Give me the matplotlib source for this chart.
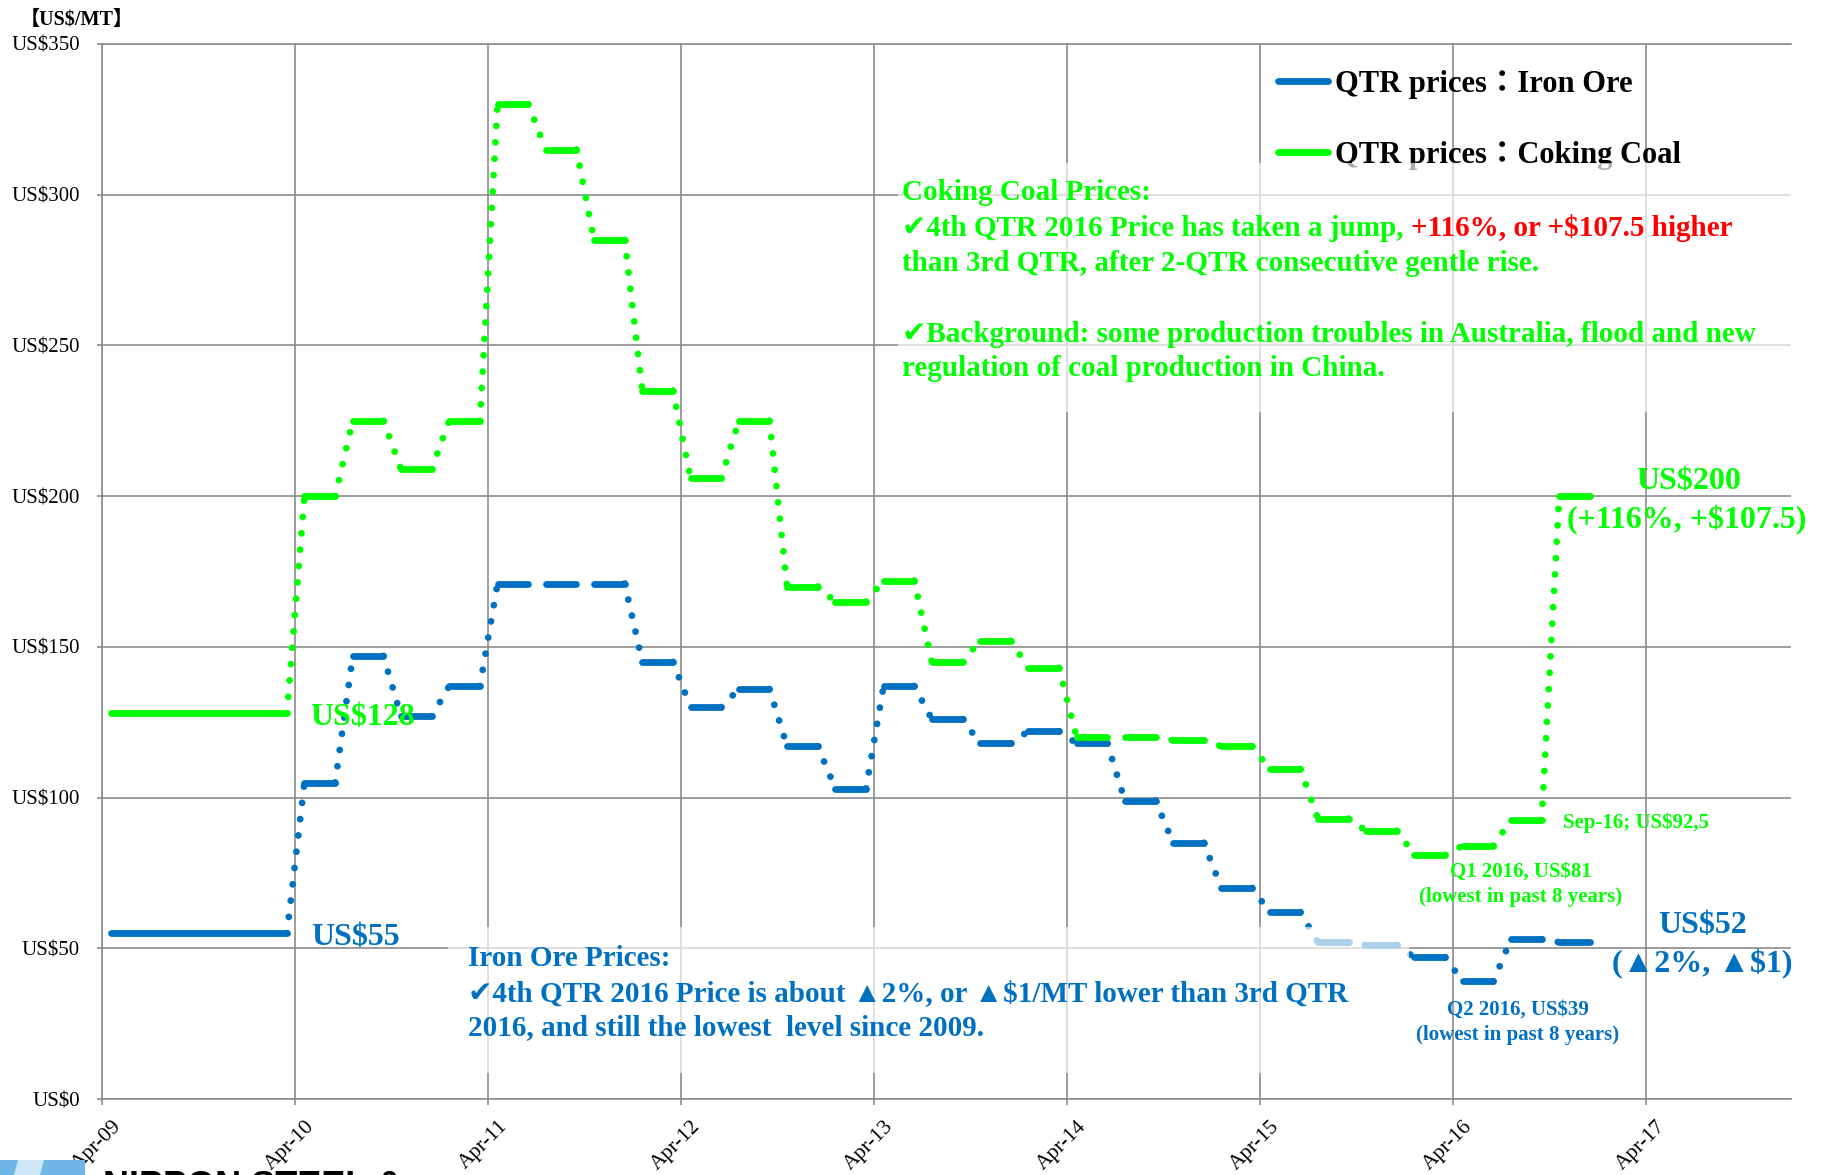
import matplotlib
matplotlib.use("Agg")
import matplotlib.pyplot as plt
from matplotlib.lines import Line2D
from matplotlib.patches import Rectangle, Polygon
from matplotlib.transforms import ScaledTranslation

plt.rcParams['font.family'] = ['Liberation Serif', 'Noto Sans CJK JP', 'DejaVu Sans']
NOTE_FAMILY = ['Liberation Serif', 'DejaVu Sans', 'Noto Sans CJK JP']

W, H = 1825, 1175
DPI = 100

# ---- data -------------------------------------------------------------
# start month of each contract price period (first one is the 2009 annual benchmark)
periods = ["2009-04", "2010-04", "2010-07", "2010-10", "2011-01",
           "2011-04", "2011-07", "2011-10", "2012-01",
           "2012-04", "2012-07", "2012-10", "2013-01",
           "2013-04", "2013-07", "2013-10", "2014-01",
           "2014-04", "2014-07", "2014-10", "2015-01",
           "2015-04", "2015-07", "2015-10", "2016-01",
           "2016-04", "2016-07", "2016-10"]
iron_ore = [55, 105, 147, 127, 137,
            171, 171, 171, 145,
            130, 136, 117, 103,
            137, 126, 118, 122,
            118, 99, 85, 70,
            62, 52, 51, 47,
            39, 53, 52]
coking_coal = [128, 200, 225, 209, 225,
               330, 315, 285, 235,
               206, 225, 170, 165,
               172, 145, 152, 143,
               120, 120, 119, 117,
               109.5, 93, 89, 81,
               84, 92.5, 200]
tick_labels = ["Apr-09", "Apr-10", "Apr-11", "Apr-12", "Apr-13",
               "Apr-14", "Apr-15", "Apr-16", "Apr-17"]
y_ticks = [0, 50, 100, 150, 200, 250, 300, 350]

BLUE = "#0070C0"
GREEN = "#00FF00"
RED = "#FF0000"
GRID = "#8C8C8C"


def to_year(s):
    y, m = s.split("-")
    return int(y) + (int(m) - 1) / 12.0


starts = [to_year(p) for p in periods]
ends = starts[1:] + [starts[-1] + 0.25]
tick_pos = [to_year("20%s-04" % lab[-2:]) for lab in tick_labels]


def fig_xy(x, y):
    """pixel position (from top-left) -> figure fraction"""
    return x / W, 1 - y / H


# ---- figure / axes ----------------------------------------------------
fig = plt.figure(figsize=(W / DPI, H / DPI), dpi=DPI)
L, R, T, B = 102, 1791, 44, 1099
ax = fig.add_axes([L / W, 1 - B / H, (R - L) / W, (B - T) / H])
ax.set_xlim(2009.25, 2018.0)
ax.set_ylim(0, 350)

ax.set_xticks(tick_pos)
ax.set_xticklabels(tick_labels, rotation=45, ha="right", va="top",
                   rotation_mode="anchor", fontsize=15.5)
ax.set_yticks(y_ticks)
ax.set_yticklabels(["US$%d" % v for v in y_ticks], fontsize=15)
ax.tick_params(axis="x", direction="out", length=4.3, width=1.2, color=GRID, pad=8.5)
ax.tick_params(axis="y", direction="out", length=3.6, width=1.2, color=GRID, pad=12.5)
for lab in ax.get_xticklabels():
    lab.set_transform(lab.get_transform() + ScaledTranslation(10 / DPI, 0, fig.dpi_scale_trans))

ax.grid(True, color=GRID, lw=1.2)
ax.set_axisbelow(True)
for side in ("left", "bottom", "top"):
    ax.spines[side].set_color(GRID)
    ax.spines[side].set_linewidth(1.2)
ax.spines["right"].set_visible(False)

# ---- price lines: solid dash per period, dotted step between periods --
LW = 4.9
S_OFF, E_OFF = 0.049, 0.042


def draw_series(vals, color):
    for i, v in enumerate(vals):
        s, e = starts[i] + S_OFF, ends[i] - E_OFF
        ax.plot([s, e], [v, v], color=color, lw=LW, solid_capstyle="round", zorder=3)
        if i + 1 < len(vals) and vals[i + 1] != v:
            ax.plot([e, starts[i + 1] + S_OFF], [v, vals[i + 1]], color=color, lw=LW,
                    linestyle=(0, (0.01, 2.4)), dash_capstyle="round", zorder=3)


draw_series(iron_ore, BLUE)
draw_series(coking_coal, GREEN)

# ---- legend ------------------------------------------------------------
handles = [Line2D([], [], color=BLUE, lw=LW, solid_capstyle="round"),
           Line2D([], [], color=GREEN, lw=LW, solid_capstyle="round")]
leg = ax.legend(handles, ["QTR prices：Iron Ore", "QTR prices：Coking Coal"],
                loc="upper left", bbox_to_anchor=fig_xy(1278, 70),
                bbox_transform=fig.transFigure, frameon=False, borderpad=0,
                borderaxespad=0, handlelength=1.65, handletextpad=0.22,
                labelspacing=1.36, prop={"weight": "bold", "size": 22})
leg.set_zorder(3.5)

# ---- translucent note panels ------------------------------------------
def panel(x0, y0, x1, y1):
    (fx0, fy1), (fx1, fy0) = fig_xy(x0, y0), fig_xy(x1, y1)
    ax.add_patch(Rectangle((fx0, fy0), fx1 - fx0, fy1 - fy0, transform=fig.transFigure,
                           facecolor="white", edgecolor="none", alpha=0.68,
                           clip_on=False, zorder=4))


panel(898, 163, 1805, 412)
panel(448, 927, 1409, 1073)


def label(x, y, s, color, size, ha="left", weight="bold", va="baseline"):
    return ax.text(*fig_xy(x, y), s, color=color, fontsize=size, ha=ha, va=va,
                   fontweight=weight, family=NOTE_FAMILY,
                   transform=fig.transFigure, zorder=6)


# unit label
ax.text(*fig_xy(20, 25), "【US$/MT】", color="black", fontsize=14.5, fontweight="bold",
        ha="left", va="baseline", transform=fig.transFigure, zorder=6)

# value call-outs
label(310, 725, "US$128", GREEN, 23)
label(311, 945, "US$55", BLUE, 23)
label(1636, 489, "US$200", GREEN, 23)
label(1567, 528, "(+116%, +$107.5)", GREEN, 23)
label(1658, 933, "US$52", BLUE, 23)
label(1612, 972, "(▲2%, ▲$1)", BLUE, 23)
label(1563, 828, "Sep-16; US$92,5", GREEN, 15)
label(1521, 877, "Q1 2016, US$81", GREEN, 15, ha="center")
label(1521, 902, "(lowest in past 8 years)", GREEN, 15, ha="center")
label(1518, 1015, "Q2 2016, US$39", BLUE, 15, ha="center")
label(1518, 1040, "(lowest in past 8 years)", BLUE, 15, ha="center")

# coking coal note
NOTE = 21
label(902, 200, "Coking Coal Prices:", GREEN, NOTE)
jump = label(902, 236, "✔4th QTR 2016 Price has taken a jump, ", GREEN, NOTE)
label(902, 271, "than 3rd QTR, after 2-QTR consecutive gentle rise.", GREEN, NOTE)
label(902, 342, "✔Background: some production troubles in Australia, flood and new", GREEN, NOTE)
label(902, 376, "regulation of coal production in China.", GREEN, NOTE)

# iron ore note
label(468, 966, "Iron Ore Prices:", BLUE, NOTE)
label(468, 1001, "✔4th QTR 2016 Price is about ▲2%, or ▲$1/MT lower than 3rd QTR", BLUE, NOTE)
label(468, 1035, "2016, and still the lowest  level since 2009.", BLUE, NOTE)

# red highlight continues the jump sentence
fig.canvas.draw()
bb = jump.get_window_extent(renderer=fig.canvas.get_renderer())
label(bb.x1, 236, "+116%, or +$107.5 higher", RED, NOTE)

# ---- corner logo strip -------------------------------------------------
fx, fy = fig_xy(0, 1160)
fig.patches.append(Rectangle((0, 0), 85 / W, fy, transform=fig.transFigure,
                             facecolor="#6DB6E6", edgecolor="none", zorder=1))
fig.patches.append(Polygon([fig_xy(14, 1175), fig_xy(18, 1160), fig_xy(44, 1160), fig_xy(40, 1175)],
                           closed=True, transform=fig.transFigure,
                           facecolor="#CDE6F6", edgecolor="none", zorder=1))
fig.text(*fig_xy(103, 1170), "NIPPON STEEL &", family="Liberation Sans",
         fontweight="bold", fontsize=26, va="top", ha="left", color="black")

fig.savefig("out.png", dpi=DPI)
